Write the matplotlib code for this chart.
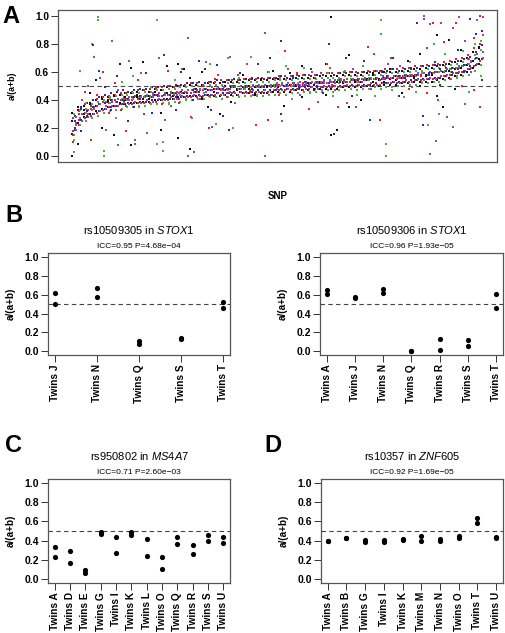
import numpy as np
import matplotlib.pyplot as plt

plt.rcParams['font.family'] = ['Liberation Sans', 'DejaVu Sans']
plt.rcParams['mathtext.fontset'] = 'custom'
plt.rcParams['mathtext.it'] = 'Liberation Sans:italic'
plt.rcParams['mathtext.rm'] = 'Liberation Sans'

# ---- panel A: allelic ratio per SNP (two twins per pair), pairs coloured 5 ways ----
a_black = [0.00, 0.16, 0.09, 0.35, 0.33, 0.30, 0.37, 0.45, 0.54, 0.36, 0.20, 0.41, 0.40, 0.39,
           0.15, 0.43, 0.66, 0.38, 0.42, 0.40, 0.08, 0.63, 0.42, 0.44, 0.67, 0.41, 0.43, 0.41,
           0.46, 0.44, 0.31, 0.19, 0.64, 0.45, 0.45, 0.43, 0.66, 0.13, 0.62, 0.45, 0.56, 0.05,
           0.46, 0.48, 0.60, 0.41, 0.47, 0.35, 0.48, 0.46, 0.48, 0.30, 0.47, 0.50, 0.49, 0.39,
           0.48, 0.47, 0.58, 0.49, 0.50, 0.48, 0.49, 0.44, 0.55, 0.49, 0.49, 0.50, 0.50, 0.61,
           0.51, 0.49, 0.36, 0.50, 0.59, 0.51, 0.51, 0.50, 0.64, 0.42, 0.52, 0.50, 0.51, 0.48,
           0.52, 0.53, 0.66, 0.44, 0.99, 0.15, 0.19, 0.53, 0.53, 0.52, 0.72, 0.35, 0.54, 0.53,
           0.53, 0.40, 0.55, 0.54, 0.53, 0.58, 0.54, 0.55, 0.56, 0.53, 0.55, 0.62, 0.57, 0.54,
           0.56, 0.45, 0.68, 0.57, 0.57, 0.56, 0.73, 0.50, 0.58, 0.57, 0.59, 0.58, 0.86, 0.43,
           0.60, 0.35, 0.83, 0.61, 0.62, 0.48, 0.76, 0.63, 0.65, 0.70, 0.68, 0.74, 0.77, 0.69]
a_red = [0.10, 0.15, 0.30, 0.26, 0.46, 0.31, 0.12, 0.34, 0.44, 0.36, 0.39, 0.60, 0.31, 0.38,
         0.40, 0.52, 0.40, 0.33, 0.18, 0.41, 0.42, 0.40, 0.54, 0.41, 0.42, 0.30, 0.43, 0.42,
         0.44, 0.49, 0.43, 0.37, 0.61, 0.44, 0.44, 0.45, 0.45, 0.38, 0.46, 0.51, 0.45, 0.28,
         0.46, 0.47, 0.50, 0.47, 0.20, 0.47, 0.48, 0.55, 0.47, 0.48, 0.48, 0.42, 0.49, 0.50,
         0.48, 0.58, 0.49, 0.48, 0.47, 0.49, 0.22, 0.50, 0.50, 0.49, 0.26, 0.60, 0.50, 0.51,
         0.51, 0.44, 0.75, 0.50, 0.51, 0.50, 0.51, 0.59, 0.52, 0.51, 0.34, 0.51, 0.52, 0.56,
         0.53, 0.52, 0.66, 0.52, 0.53, 0.51, 0.54, 0.35, 0.53, 0.54, 0.60, 0.53, 0.54, 0.35,
         0.53, 0.55, 0.78, 0.54, 0.55, 0.73, 0.26, 0.54, 0.56, 0.55, 0.70, 0.56, 0.55, 0.57,
         0.56, 0.57, 0.48, 0.57, 0.64, 0.58, 0.58, 0.57, 0.77, 0.45, 0.95, 0.59, 0.60, 0.40,
         0.81, 0.60, 0.62, 0.55, 0.95, 0.63, 0.64, 0.50, 0.66, 0.69, 0.84, 0.47, 1.00, 0.35]
a_green = [0.03, 0.12, 0.61, 0.27, 0.38, 0.31, 0.80, 0.33, 0.97, 0.99, 0.00, 0.04, 0.38, 0.41,
           0.27, 0.39, 0.41, 0.53, 0.40, 0.44, 0.41, 0.57, 0.42, 0.35, 0.43, 0.42, 0.49, 0.42,
           0.97, 0.09, 0.04, 0.10, 0.44, 0.37, 0.45, 0.54, 0.44, 0.46, 0.46, 0.41, 0.47, 0.27,
           0.46, 0.50, 0.48, 0.45, 0.47, 0.66, 0.23, 0.48, 0.48, 0.47, 0.70, 0.47, 0.49, 0.20,
           0.48, 0.56, 0.50, 0.48, 0.71, 0.49, 0.49, 0.43, 0.50, 0.49, 0.60, 0.50, 0.51, 0.49,
           0.50, 0.56, 0.51, 0.64, 0.41, 0.50, 0.52, 0.51, 0.51, 0.63, 0.52, 0.46, 0.53, 0.52,
           0.47, 0.53, 0.52, 0.59, 0.53, 0.43, 0.54, 0.52, 0.61, 0.53, 0.54, 0.55, 0.53, 0.44,
           0.55, 0.64, 0.54, 0.56, 0.43, 0.55, 0.97, 0.87, 0.09, 0.00, 0.56, 0.47, 0.57, 0.56,
           0.42, 0.57, 0.58, 0.67, 0.57, 0.46, 0.59, 0.53, 0.58, 0.22, 0.80, 0.59, 0.30, 0.60,
           0.61, 0.73, 0.60, 0.62, 0.63, 0.57, 0.64, 0.75, 0.46, 0.66, 0.69, 0.80, 0.82, 0.57]
a_blue = [0.20, 0.25, 0.18, 0.34, 0.32, 0.29, 0.79, 0.35, 0.61, 0.37, 0.38, 0.49, 0.40, 0.33,
          0.57, 0.39, 0.40, 0.47, 0.41, 0.25, 0.35, 0.42, 0.41, 0.43, 0.43, 0.59, 0.42, 0.31,
          0.44, 0.43, 0.72, 0.44, 0.44, 0.50, 0.33, 0.45, 0.46, 0.60, 0.45, 0.52, 0.47, 0.40,
          0.46, 0.68, 0.48, 0.62, 0.47, 0.33, 0.48, 0.65, 0.29, 0.48, 0.48, 0.19, 0.50, 0.49,
          0.59, 0.48, 0.49, 0.50, 0.48, 0.56, 0.50, 0.66, 0.49, 0.45, 0.50, 0.70, 0.51, 0.50,
          0.82, 0.30, 0.50, 0.51, 0.52, 0.56, 0.51, 0.49, 0.53, 0.51, 0.52, 0.62, 0.50, 0.53,
          0.52, 0.45, 0.80, 0.52, 0.53, 0.16, 0.54, 0.53, 0.70, 0.53, 0.54, 0.43, 0.55, 0.54,
          0.54, 0.68, 0.55, 0.26, 0.56, 0.55, 0.55, 0.61, 0.57, 0.56, 0.56, 0.70, 0.43, 0.57,
          0.58, 0.56, 0.57, 0.62, 0.95, 0.58, 0.22, 0.29, 0.59, 0.58, 0.60, 0.67, 0.62, 0.51,
          0.61, 0.63, 0.63, 0.60, 0.76, 0.62, 0.61, 0.65, 0.98, 0.64, 0.87, 0.70, 0.89, 0.54]
a_purple = [0.28, 0.22, 0.25, 0.40, 0.50, 0.30, 0.71, 0.34, 0.56, 0.37, 0.19, 0.36, 0.82, 0.39,
            0.08, 0.47, 0.39, 0.41, 0.68, 0.40, 0.09, 0.12, 0.42, 0.59, 0.17, 0.43, 0.45, 0.42,
            0.70, 0.43, 0.44, 0.26, 0.36, 0.45, 0.46, 0.44, 0.45, 0.62, 0.84, 0.00, 0.03, 0.46,
            0.47, 0.41, 0.67, 0.46, 0.47, 0.21, 0.48, 0.58, 0.47, 0.49, 0.48, 0.71, 0.38, 0.49,
            0.48, 0.50, 0.49, 0.66, 0.50, 0.44, 0.49, 0.50, 0.88, 0.00, 0.50, 0.49, 0.51, 0.50,
            0.25, 0.51, 0.50, 0.62, 0.51, 0.52, 0.44, 0.51, 0.52, 0.51, 0.53, 0.60, 0.52, 0.39,
            0.53, 0.52, 0.63, 0.53, 0.52, 0.47, 0.54, 0.55, 0.53, 0.38, 0.54, 0.62, 0.55, 0.53,
            0.56, 0.54, 0.55, 0.48, 0.56, 0.61, 0.57, 0.55, 0.56, 0.66, 0.57, 0.57, 0.64, 0.56,
            0.58, 0.57, 0.57, 0.49, 0.59, 0.58, 0.98, 1.00, 0.94, 0.02, 0.11, 0.60, 0.95, 0.61,
            0.62, 0.28, 0.91, 0.21, 0.99, 0.63, 0.82, 0.37, 0.68, 0.60, 0.73, 0.97, 0.99, 0.86]

# second group of twin pairs, same colours
a_black2 = [0.25, 0.31, 0.33, 0.24, 0.36, 0.28, 0.30, 0.38, 0.40, 0.32, 0.34, 0.42, 0.42, 0.35,
            0.36, 0.44, 0.44, 0.37, 0.37, 0.45, 0.45, 0.38, 0.38, 0.46, 0.47, 0.39, 0.39, 0.46,
            0.48, 0.40, 0.40, 0.47, 0.49, 0.41, 0.41, 0.49, 0.50, 0.42, 0.42, 0.50, 0.51, 0.43,
            0.43, 0.51, 0.42, 0.51, 0.52, 0.44, 0.43, 0.52, 0.52, 0.43, 0.44, 0.53, 0.53, 0.44,
            0.44, 0.53, 0.53, 0.45, 0.45, 0.54, 0.54, 0.45, 0.45, 0.54, 0.54, 0.45, 0.46, 0.55,
            0.55, 0.46, 0.46, 0.55, 0.55, 0.46, 0.47, 0.56, 0.56, 0.47, 0.47, 0.56, 0.56, 0.47,
            0.48, 0.57, 0.57, 0.48, 0.48, 0.57, 0.57, 0.48, 0.49, 0.58, 0.58, 0.49, 0.49, 0.58,
            0.58, 0.49, 0.50, 0.59, 0.59, 0.50, 0.50, 0.59, 0.60, 0.51, 0.51, 0.60, 0.60, 0.51,
            0.52, 0.61, 0.61, 0.52, 0.53, 0.62, 0.62, 0.53, 0.53, 0.63, 0.63, 0.53, 0.54, 0.64,
            0.65, 0.55, 0.56, 0.66, 0.67, 0.57, 0.58, 0.68, 0.70, 0.60, 0.63, 0.74, 0.78, 0.66]
a_red2 = [0.18, 0.27, 0.32, 0.22, 0.27, 0.37, 0.36, 0.29, 0.31, 0.41, 0.42, 0.33, 0.35, 0.43,
          0.44, 0.36, 0.37, 0.45, 0.45, 0.36, 0.37, 0.46, 0.47, 0.38, 0.38, 0.47, 0.48, 0.38,
          0.39, 0.48, 0.49, 0.40, 0.40, 0.50, 0.49, 0.41, 0.41, 0.50, 0.51, 0.42, 0.42, 0.52,
          0.52, 0.42, 0.43, 0.51, 0.53, 0.43, 0.44, 0.53, 0.54, 0.44, 0.45, 0.54, 0.54, 0.45,
          0.44, 0.54, 0.55, 0.45, 0.46, 0.55, 0.55, 0.46, 0.46, 0.56, 0.56, 0.46, 0.47, 0.56,
          0.57, 0.47, 0.47, 0.57, 0.57, 0.47, 0.48, 0.58, 0.58, 0.47, 0.48, 0.58, 0.58, 0.48,
          0.49, 0.59, 0.59, 0.49, 0.49, 0.59, 0.59, 0.49, 0.50, 0.60, 0.60, 0.50, 0.50, 0.60,
          0.60, 0.50, 0.51, 0.61, 0.61, 0.51, 0.51, 0.61, 0.62, 0.52, 0.52, 0.62, 0.62, 0.52,
          0.53, 0.63, 0.63, 0.53, 0.54, 0.64, 0.64, 0.54, 0.55, 0.65, 0.65, 0.55, 0.56, 0.66,
          0.67, 0.57, 0.58, 0.68, 0.69, 0.59, 0.60, 0.70, 0.72, 0.62, 0.64, 0.77, 0.80, 0.68]
a_green2 = [0.15, 0.30, 0.22, 0.33, 0.25, 0.34, 0.27, 0.37, 0.29, 0.39, 0.31, 0.40, 0.32, 0.42,
            0.33, 0.43, 0.34, 0.44, 0.35, 0.44, 0.35, 0.45, 0.36, 0.45, 0.36, 0.46, 0.37, 0.46,
            0.37, 0.47, 0.38, 0.47, 0.38, 0.48, 0.39, 0.48, 0.39, 0.49, 0.40, 0.49, 0.40, 0.50,
            0.41, 0.50, 0.41, 0.50, 0.42, 0.51, 0.42, 0.51, 0.41, 0.51, 0.42, 0.52, 0.43, 0.52,
            0.42, 0.52, 0.43, 0.52, 0.43, 0.53, 0.44, 0.53, 0.43, 0.53, 0.44, 0.53, 0.44, 0.54,
            0.45, 0.54, 0.44, 0.54, 0.45, 0.54, 0.45, 0.55, 0.46, 0.55, 0.45, 0.55, 0.46, 0.55,
            0.46, 0.56, 0.47, 0.56, 0.46, 0.56, 0.47, 0.56, 0.47, 0.57, 0.48, 0.57, 0.47, 0.57,
            0.48, 0.57, 0.48, 0.58, 0.49, 0.58, 0.48, 0.58, 0.49, 0.59, 0.49, 0.59, 0.50, 0.59,
            0.50, 0.60, 0.51, 0.60, 0.51, 0.61, 0.52, 0.61, 0.52, 0.62, 0.53, 0.62, 0.53, 0.63,
            0.54, 0.64, 0.55, 0.65, 0.56, 0.66, 0.57, 0.67, 0.58, 0.69, 0.61, 0.72, 0.65, 0.76]
a_blue2 = [0.29, 0.19, 0.35, 0.26, 0.38, 0.28, 0.40, 0.30, 0.42, 0.32, 0.44, 0.34, 0.45, 0.35,
           0.46, 0.36, 0.47, 0.37, 0.46, 0.38, 0.47, 0.38, 0.48, 0.39, 0.48, 0.39, 0.49, 0.40,
           0.49, 0.40, 0.50, 0.41, 0.50, 0.41, 0.51, 0.42, 0.51, 0.42, 0.52, 0.43, 0.52, 0.43,
           0.53, 0.44, 0.52, 0.44, 0.53, 0.44, 0.54, 0.45, 0.53, 0.45, 0.54, 0.45, 0.55, 0.46,
           0.54, 0.46, 0.55, 0.46, 0.55, 0.46, 0.56, 0.47, 0.55, 0.47, 0.56, 0.47, 0.56, 0.47,
           0.57, 0.48, 0.56, 0.48, 0.57, 0.48, 0.57, 0.48, 0.58, 0.49, 0.57, 0.49, 0.58, 0.49,
           0.58, 0.49, 0.59, 0.50, 0.58, 0.50, 0.59, 0.50, 0.59, 0.50, 0.60, 0.51, 0.59, 0.51,
           0.60, 0.51, 0.60, 0.51, 0.61, 0.52, 0.60, 0.52, 0.61, 0.52, 0.62, 0.53, 0.61, 0.53,
           0.62, 0.53, 0.63, 0.54, 0.63, 0.54, 0.64, 0.55, 0.64, 0.55, 0.65, 0.56, 0.65, 0.56,
           0.66, 0.57, 0.67, 0.58, 0.68, 0.59, 0.69, 0.60, 0.71, 0.62, 0.74, 0.65, 0.79, 0.69]
a_purple2 = [0.24, 0.19, 0.30, 0.25, 0.33, 0.28, 0.35, 0.30, 0.37, 0.32, 0.39, 0.34, 0.40, 0.36,
             0.41, 0.36, 0.42, 0.38, 0.42, 0.37, 0.43, 0.39, 0.43, 0.38, 0.44, 0.40, 0.44, 0.39,
             0.45, 0.41, 0.45, 0.40, 0.46, 0.42, 0.46, 0.41, 0.47, 0.43, 0.47, 0.42, 0.48, 0.44,
             0.48, 0.43, 0.48, 0.44, 0.49, 0.44, 0.49, 0.45, 0.49, 0.44, 0.50, 0.46, 0.50, 0.45,
             0.50, 0.46, 0.50, 0.45, 0.51, 0.47, 0.51, 0.46, 0.51, 0.47, 0.51, 0.46, 0.52, 0.48,
             0.52, 0.47, 0.52, 0.48, 0.52, 0.47, 0.53, 0.49, 0.53, 0.48, 0.53, 0.49, 0.53, 0.48,
             0.54, 0.50, 0.54, 0.49, 0.54, 0.50, 0.54, 0.49, 0.55, 0.51, 0.55, 0.50, 0.55, 0.51,
             0.55, 0.50, 0.56, 0.52, 0.56, 0.51, 0.56, 0.52, 0.57, 0.52, 0.57, 0.53, 0.57, 0.52,
             0.58, 0.54, 0.58, 0.53, 0.59, 0.55, 0.59, 0.54, 0.60, 0.56, 0.60, 0.55, 0.61, 0.57,
             0.62, 0.58, 0.63, 0.59, 0.64, 0.60, 0.65, 0.61, 0.67, 0.63, 0.70, 0.66, 0.74, 0.70]

# ---- panels B-D: two twins per pair ----
b1_pairs = ['Twins J', 'Twins N', 'Twins Q', 'Twins S', 'Twins T']
b1_vals = [(0.62, 0.50), (0.67, 0.58), (0.105, 0.075), (0.145, 0.135), (0.52, 0.46)]

b2_pairs = ['Twins A', 'Twins J', 'Twins N', 'Twins Q', 'Twins R', 'Twins S', 'Twins T']
b2_vals = [(0.655, 0.605), (0.575, 0.56), (0.66, 0.615), (0.0, 0.0), (0.13, 0.01),
           (0.12, 0.055), (0.61, 0.455)]

c_pairs = ['Twins A', 'Twins D', 'Twins E', 'Twins G', 'Twins I', 'Twins K', 'Twins L',
           'Twins O', 'Twins Q', 'Twins R', 'Twins S', 'Twins U']
c_vals = [(0.335, 0.235), (0.29, 0.165), (0.095, 0.065), (0.49, 0.47), (0.44, 0.27),
          (0.49, 0.455), (0.42, 0.245), (0.23, 0.105), (0.435, 0.37), (0.355, 0.265),
          (0.455, 0.40), (0.44, 0.375)]

d_pairs = ['Twins A', 'Twins B', 'Twins G', 'Twins I', 'Twins K', 'Twins M', 'Twins N',
           'Twins O', 'Twins T', 'Twins U']
d_vals = [(0.40, 0.395), (0.425, 0.425), (0.41, 0.385), (0.41, 0.388), (0.413, 0.41),
          (0.445, 0.393), (0.413, 0.398), (0.452, 0.424), (0.64, 0.583), (0.434, 0.432)]

frame_col = '#555555'


def style_axes(ax, tick_fs, lab_fs):
    for s in ax.spines.values():
        s.set_color(frame_col)
        s.set_linewidth(0.9)
    ax.set_ylim(-0.04, 1.04)
    ax.set_yticks([0.0, 0.2, 0.4, 0.6, 0.8, 1.0])
    ax.set_yticklabels(['0.0', '0.2', '0.4', '0.6', '0.8', '1.0'], fontweight='bold', fontsize=tick_fs)
    ax.tick_params(axis='both', direction='out', length=5, width=0.7, color='#333333', pad=1.5)
    ax.set_ylabel('a/(a+b)', fontweight='bold', fontsize=lab_fs, labelpad=6)
    ax.axhline(0.5, color='#444444', lw=0.8, dashes=(4, 3), zorder=1)


fig = plt.figure(figsize=(5.06, 6.33), dpi=100)

# panel A
axA = fig.add_axes([0.115, 0.744, 0.867, 0.240])
style_axes(axA, 7.3, 6)
cols = ['#111111', '#e0202a', '#4caf3c', '#2a2ab0', '#a040b0']
groups = [(a_black, a_black2), (a_red, a_red2), (a_green, a_green2),
          (a_blue, a_blue2), (a_purple, a_purple2)]
n_snp = len(a_black) // 2
idx = np.arange(1, n_snp + 1)
for k, ((v1, v2), c) in enumerate(zip(groups, cols)):
    xs = np.repeat(idx + (k - 2) * 0.17, 2)
    axA.scatter(xs, v2, s=4.5, marker='s', color=c, lw=0, zorder=2)
for k, ((v1, v2), c) in enumerate(zip(groups, cols)):
    xs = np.repeat(idx + (k - 2) * 0.17, 2)
    axA.scatter(xs, v1, s=4.5, marker='s', color=c, lw=0, zorder=2)
axA.set_xlim(1 - 0.04 * (n_snp - 1), n_snp + 0.04 * (n_snp - 1))
axA.set_xticks([])
axA.set_xlabel('SNP', fontweight='bold', fontsize=7, labelpad=21)
axA.set_ylabel('a/(a+b)', fontweight='bold', fontsize=6.3, labelpad=13)


def pair_panel(rect, names, vals, snp, gene, icc, pval):
    ax = fig.add_axes(rect)
    style_axes(ax, 7.5, 7.2)
    n = len(names)
    x = np.arange(1, n + 1)
    v = np.array(vals)
    ax.scatter(np.repeat(x, 2), v.ravel(), s=14, color='black', lw=0, zorder=3)
    ax.set_xlim(1 - 0.04 * (n - 1), n + 0.04 * (n - 1))
    ax.set_xticks(x)
    ax.set_xticklabels(names, rotation=90, fontweight='bold', fontsize=7.3)
    ax.annotate(snp + ' in $\\it{' + gene + '}$', xy=(0.5, 1), xycoords='axes fraction',
                xytext=(0, 16.5), textcoords='offset points', ha='center', va='center', fontsize=8)
    ax.annotate('ICC=%.2f P=%s' % (icc, pval), xy=(0.5, 1), xycoords='axes fraction',
                xytext=(0, 5), textcoords='offset points', ha='center', va='center', fontsize=6)
    return ax


pair_panel([0.095, 0.439, 0.360, 0.161], b1_pairs, b1_vals, 'rs10509305', 'STOX1', 0.95, '4.68e\u221204')
pair_panel([0.632, 0.439, 0.362, 0.161], b2_pairs, b2_vals, 'rs10509306', 'STOX1', 0.96, '1.93e\u221205')
pair_panel([0.095, 0.079, 0.360, 0.164], c_pairs, c_vals, 'rs950802', 'MS4A7', 0.71, '2.60e\u221203')
pair_panel([0.634, 0.079, 0.360, 0.164], d_pairs, d_vals, 'rs10357', 'ZNF605', 0.92, '1.69e\u221205')

for lab, x, y in [('A', 0.004, 0.992), ('B', 0.010, 0.678), ('C', 0.010, 0.315), ('D', 0.523, 0.315)]:
    fig.text(x, y, lab, fontsize=17, fontweight='bold', ha='left', va='top')

fig.savefig('out.png', dpi=100)
